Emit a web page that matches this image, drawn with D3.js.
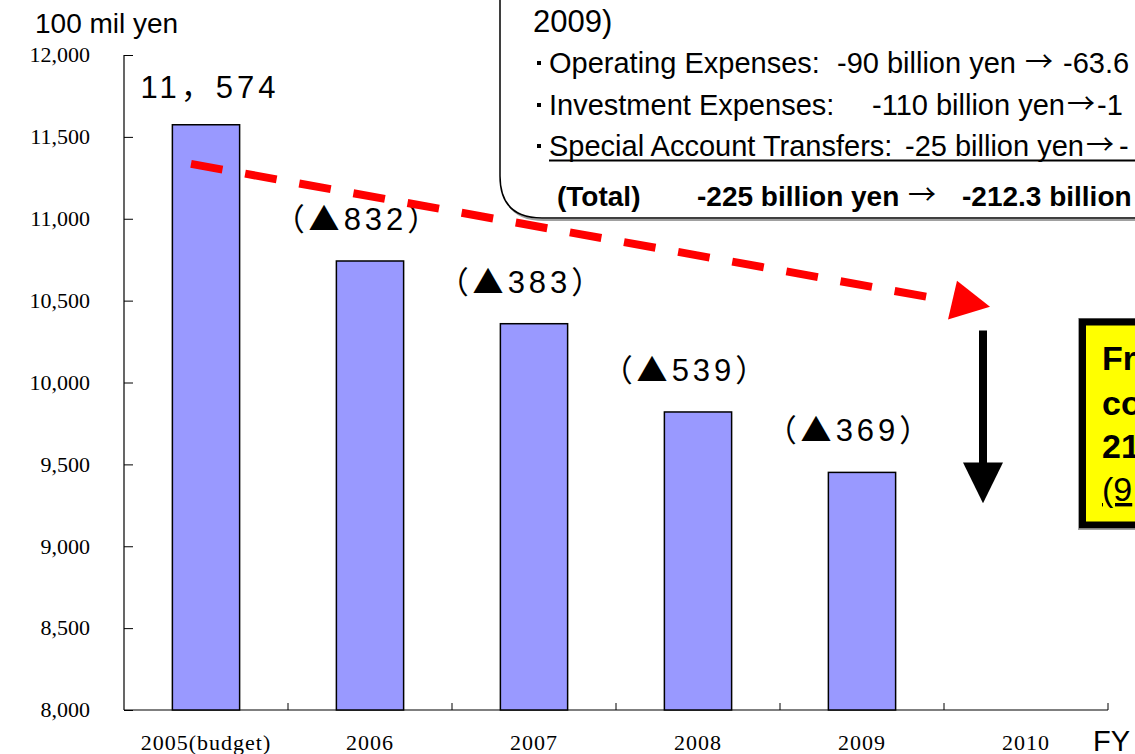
<!DOCTYPE html>
<html><head><meta charset="utf-8">
<script src="https://cdn.jsdelivr.net/npm/d3@7/dist/d3.min.js"></script>
<style>
html,body{margin:0;padding:0;background:#fff;overflow:hidden}
svg{display:block}
</style></head>
<body>
<svg id="chart" width="1135" height="754"></svg>
<script>
// ---- data ----
const categories = ["2005(budget)", "2006", "2007", "2008", "2009", "2010"];
const values = [11574, 10742, 10359, 9820, 9451, null];
const valueLabels = ["11，574", "（▲832）", "（▲383）", "（▲539）", "（▲369）", ""];
const yTicks = [8000, 8500, 9000, 9500, 10000, 10500, 11000, 11500, 12000];
const yDomain = [8000, 12000];
const unitLabel = "100 mil yen";
const xAxisLabel = "FY";
const boxHeading = "2009)";
const boxItems = ["Operating Expenses:", "Investment Expenses:", "Special Account Transfers:"];
const boxBefore = ["-90 billion yen", "-110 billion yen", "-25 billion yen"];
const boxAfter = ["-63.6", "-1", "-"];
const boxTotal = ["(Total)", "-225 billion yen", "-212.3 billion"];
const yellowLines = ["From", "cost", "212.3", "(9"];

// ---- layout ----
const svg = d3.select("#chart");
const mLeft = 124, mRight = 1108, mTop = 55, mBottom = 710;

const x = d3.scaleBand().domain(categories).range([mLeft, mRight])
  .paddingInner(0.59).paddingOuter(0.295);
const y = d3.scaleLinear().domain(yDomain).range([mBottom, mTop]);
const fmt = d3.format(",");

const sans = "'Liberation Sans',Arial,sans-serif";
const cjk = "'Noto Sans CJK JP','Noto Sans',sans-serif";
const serif = "'Liberation Serif','Times New Roman',serif";

// annotation box (top)
const bx = 500, bb = 218, r = 42;
svg.append("path")
  .attr("d", `M${bx+2},-10 L${bx+2},${bb+2-r} Q${bx+2},${bb+2} ${bx+2+r},${bb+2} L1145,${bb+2}`)
  .attr("fill", "none").attr("stroke", "#a0a0a0").attr("stroke-width", 2);
svg.append("path")
  .attr("d", `M${bx},-10 L${bx},${bb-r} Q${bx},${bb} ${bx+r},${bb} L1145,${bb} L1145,-10 Z`)
  .attr("fill", "#fff").attr("stroke", "#000").attr("stroke-width", 1.5);

svg.append("text").attr("x", 533).attr("y", 32).text(boxHeading)
  .attr("font-family", sans).attr("font-size", 31).attr("fill", "#000");
const lineY = [73, 115, 156];
const beforeX = [837, 872, 905], arrowX = [1025, 1067, 1086], afterX = [1063, 1097, 1119];
lineY.forEach((yy, i) => {
  const g = svg.append("g").attr("font-size", 29).attr("fill", "#000");
  g.append("rect").attr("x", 537).attr("y", yy - 12).attr("width", 4).attr("height", 4).attr("fill", "#000");
  g.append("text").attr("x", 549).attr("y", yy).attr("font-family", sans).text(boxItems[i]);
  g.append("text").attr("x", beforeX[i]).attr("y", yy).attr("font-family", sans).text(boxBefore[i]);
  g.append("text").attr("x", arrowX[i]).attr("y", yy - 1).attr("font-family", cjk).attr("font-size", 28).text("→");
  g.append("text").attr("x", afterX[i]).attr("y", yy).attr("font-family", sans).text(boxAfter[i]);
});
svg.append("line").attr("x1", 549).attr("x2", 1140).attr("y1", 160.5).attr("y2", 160.5)
  .attr("stroke", "#000").attr("stroke-width", 2);
const tg = svg.append("g").attr("font-weight", "bold").attr("font-size", 28).attr("fill", "#000");
[557, 697, 962].forEach((xx, i) => {
  tg.append("text").attr("x", xx).attr("y", 206).attr("font-family", sans).text(boxTotal[i]);
});
tg.append("text").attr("x", 908).attr("y", 205).attr("font-family", cjk).attr("font-weight", "normal").attr("font-size", 28).text("→");

// unit label
svg.append("text").attr("x", 35).attr("y", 33).text(unitLabel)
  .attr("font-family", sans).attr("font-size", 28).attr("fill", "#000");

// y axis
const gy = svg.append("g").attr("transform", `translate(${mLeft},0)`)
  .call(d3.axisRight(y).tickValues(yTicks).tickSize(9).tickFormat(""));
gy.select(".domain").attr("d", `M0,${mTop}V${mBottom}`).attr("stroke", "#000").attr("stroke-width", 1.2);
gy.selectAll(".tick line").attr("stroke", "#000").attr("stroke-width", 1);
svg.append("g").selectAll("text").data(yTicks).join("text")
  .attr("x", 90).attr("y", d => y(d)).attr("dy", "0.33em")
  .attr("text-anchor", "end").attr("font-family", serif).attr("font-size", 22)
  .attr("fill", "#000").text(d => fmt(d));

// x axis
const bandEdges = categories.map(c => x(c) - x.step() * x.paddingInner() / 2 + x.step());
const gx = svg.append("g");
gx.append("line").attr("x1", mLeft).attr("x2", mRight).attr("y1", mBottom).attr("y2", mBottom)
  .attr("stroke", "#000").attr("stroke-width", 1.2);
gx.selectAll("line.tk").data(bandEdges).join("line").attr("class", "tk")
  .attr("x1", d => d).attr("x2", d => d).attr("y1", mBottom).attr("y2", mBottom - 7)
  .attr("stroke", "#000").attr("stroke-width", 1);
gx.selectAll("text").data(categories).join("text")
  .attr("x", d => x(d) + x.bandwidth() / 2).attr("y", 750)
  .attr("text-anchor", "middle").attr("font-family", serif).attr("font-size", 22)
  .attr("letter-spacing", 1).attr("fill", "#000").text(d => d);
svg.append("text").attr("x", 1093).attr("y", 751).text(xAxisLabel)
  .attr("font-family", sans).attr("font-size", 29).attr("fill", "#000");

// bars
const barData = categories.map((c, i) => ({ c, v: values[i], label: valueLabels[i] })).filter(d => d.v != null);
svg.append("g").selectAll("rect").data(barData).join("rect")
  .attr("x", d => x(d.c)).attr("y", d => y(d.v))
  .attr("width", x.bandwidth()).attr("height", d => y(yDomain[0]) - y(d.v))
  .attr("fill", "#9999FF").attr("stroke", "#000").attr("stroke-width", 1.5);

// value labels (ASCII digits in sans, full-width marks in CJK font)
const lbl = svg.append("g").selectAll("text").data(barData).join("text")
  .attr("x", (d, i) => x(d.c) + x.bandwidth() / 2 + (i === 0 ? 4 : -12))
  .attr("y", (d, i) => i === 0 ? 98 : y(d.v) - 31)
  .attr("text-anchor", "middle").attr("font-size", 31)
  .attr("letter-spacing", 4).attr("fill", "#000");
lbl.each(function(d) {
  const runs = d.label.match(/[\x00-\x7f]+|[^\x00-\x7f]+/g) || [];
  const t = d3.select(this);
  runs.forEach(run => {
    t.append("tspan").attr("font-family", /^[\x00-\x7f]/.test(run) ? sans : cjk).text(run);
  });
});

// red dashed trend arrow
const c0 = x(categories[0]) + x.bandwidth() / 2;
const c5 = x(categories[5]) + x.bandwidth() / 2;
svg.append("line").attr("x1", c0 - 15).attr("y1", y(11335)).attr("x2", c5 - 78).attr("y2", y(10500))
  .attr("stroke", "#ff0000").attr("stroke-width", 8).attr("stroke-dasharray", "32,23");
svg.append("path")
  .attr("d", `M${c5 - 69},${y(10622)} L${c5 - 36},${y(10463)} L${c5 - 78},${y(10384)} Z`)
  .attr("fill", "#ff0000");

// black down arrow
const ax = c5 - 43;
svg.append("line").attr("x1", ax).attr("x2", ax).attr("y1", y(10317)).attr("y2", y(9500))
  .attr("stroke", "#000").attr("stroke-width", 8);
svg.append("path")
  .attr("d", `M${ax - 20},${y(9512)} L${ax + 20},${y(9512)} L${ax},${y(9262)} Z`).attr("fill", "#000");

// yellow box
svg.append("rect").attr("x", 1078.5).attr("y", 318.5).attr("width", 80).attr("height", 211)
  .attr("fill", "none").attr("stroke", "#a0a0a0").attr("stroke-width", 1);
svg.append("rect").attr("x", 1082.5).attr("y", 322).attr("width", 80).attr("height", 203)
  .attr("fill", "#ffff00").attr("stroke", "#000").attr("stroke-width", 7);
const yl = svg.append("g");
[370, 415, 458, 501].forEach((yy, i) => {
  yl.append("text").attr("x", 1102).attr("y", yy).text(yellowLines[i])
    .attr("font-family", sans).attr("font-weight", i === 3 ? "normal" : "bold")
    .attr("font-size", 34).attr("fill", "#000")
    .attr("text-decoration", i === 3 ? "underline" : null);
});
</script>
</body></html>
